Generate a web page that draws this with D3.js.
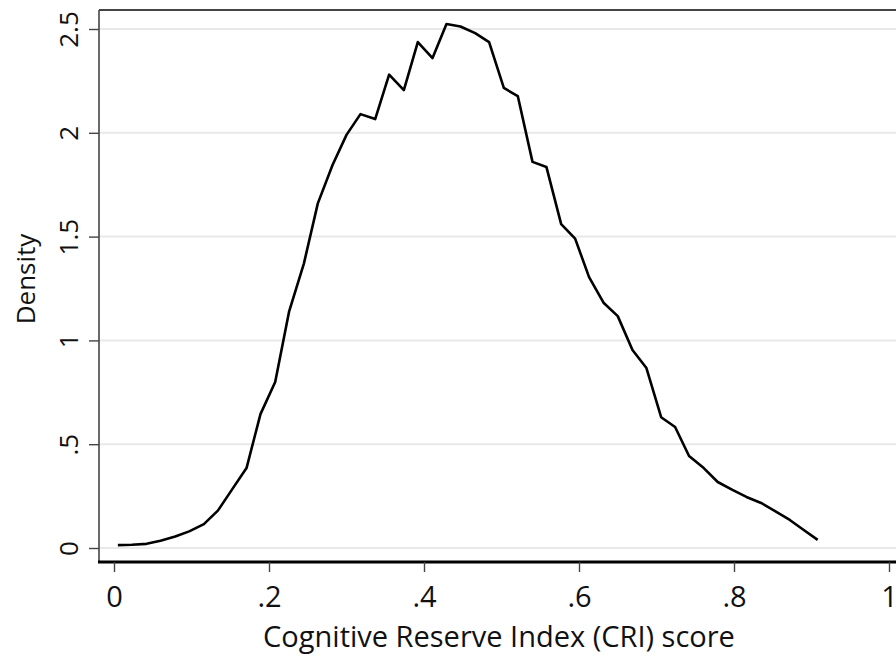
<!DOCTYPE html>
<html>
<head>
<meta charset="utf-8">
<script src="https://cdn.jsdelivr.net/npm/d3@7"></script>
<style>
  html, body { margin: 0; padding: 0; background: #fff; }
  svg { display: block; }
  text { font-family: "Open Sans", "Noto Sans", sans-serif; fill: #111; }
</style>
</head>
<body>
<svg id="chart" width="896" height="659"></svg>
<script>
// ---- data ----
const xTickValues = [0, 0.2, 0.4, 0.6, 0.8, 1];
const xTickLabels = ["0", ".2", ".4", ".6", ".8", "1"];
const yTickValues = [0, 0.5, 1, 1.5, 2, 2.5];
const yTickLabels = ["0", ".5", "1", "1.5", "2", "2.5"];

const criScore = [0.005, 0.023, 0.042, 0.060, 0.079, 0.097, 0.116, 0.134, 0.152, 0.171,
                  0.189, 0.208, 0.226, 0.245, 0.263, 0.282, 0.300, 0.318, 0.337, 0.355,
                  0.374, 0.392, 0.411, 0.429, 0.447, 0.466, 0.484, 0.503, 0.521, 0.540,
                  0.558, 0.577, 0.595, 0.613, 0.632, 0.650, 0.669, 0.687, 0.706, 0.724,
                  0.742, 0.761, 0.779, 0.798, 0.816, 0.835, 0.853, 0.872, 0.890, 0.908];
const density = [0.014, 0.016, 0.020, 0.035, 0.055, 0.080, 0.115, 0.180, 0.280, 0.385,
                 0.645, 0.800, 1.140, 1.370, 1.660, 1.845, 1.990, 2.090, 2.066, 2.280,
                 2.206, 2.437, 2.360, 2.524, 2.512, 2.480, 2.437, 2.216, 2.177, 1.860,
                 1.835, 1.560, 1.490, 1.305, 1.180, 1.117, 0.954, 0.867, 0.630, 0.583,
                 0.443, 0.385, 0.318, 0.280, 0.246, 0.217, 0.178, 0.135, 0.087, 0.039];

const xTitle = "Cognitive Reserve Index (CRI) score";
const yTitle = "Density";

// ---- layout ----
const frame = { left: 99, top: 10, right: 902, bottom: 562 };
const svg = d3.select("#chart");

const x = d3.scaleLinear().domain([0, 1]).range([114, 889]);
const y = d3.scaleLinear().domain([0, 2.5]).range([548, 29]);

// gridlines
svg.append("g")
  .selectAll("line")
  .data(yTickValues)
  .join("line")
  .attr("x1", frame.left).attr("x2", frame.right)
  .attr("y1", d => y(d)).attr("y2", d => y(d))
  .attr("stroke", "#e9e9e9").attr("stroke-width", 2);

// frame top
svg.append("line")
  .attr("x1", frame.left).attr("x2", frame.right)
  .attr("y1", frame.top).attr("y2", frame.top)
  .attr("stroke", "#444").attr("stroke-width", 2);

// y axis
const yAxis = d3.axisLeft(y)
  .tickValues(yTickValues)
  .tickFormat((d, i) => yTickLabels[i])
  .tickSizeInner(10).tickSizeOuter(0).tickPadding(11);
const gy = svg.append("g").attr("transform", `translate(${frame.left},0)`).call(yAxis);
gy.select(".domain").attr("stroke", "#444").attr("stroke-width", 1.6)
  .attr("d", `M0,${frame.top}V${frame.bottom}`);
gy.selectAll(".tick line").attr("stroke", "#444").attr("stroke-width", 1.4);
gy.selectAll(".tick text")
  .attr("font-size", 26)
  .attr("fill", "#111")
  .attr("text-anchor", "middle")
  .attr("dy", null)
  .attr("x", null)
  .attr("transform", "translate(-21,0) rotate(-90)");

// x axis
const xAxis = d3.axisBottom(x)
  .tickValues(xTickValues)
  .tickFormat((d, i) => xTickLabels[i])
  .tickSizeInner(10).tickSizeOuter(0).tickPadding(14);
const gx = svg.append("g").attr("transform", `translate(0,${frame.bottom})`).call(xAxis);
gx.select(".domain").attr("stroke", "#000").attr("stroke-width", 3)
  .attr("d", `M${frame.left - 1},0H${frame.right}`);
gx.selectAll(".tick line").attr("stroke", "#444").attr("stroke-width", 1.4);
gx.selectAll(".tick text")
  .attr("font-size", 29)
  .attr("fill", "#111")
  .attr("dy", null)
  .attr("y", 45);

// density line
const line = d3.line()
  .x((d, i) => x(criScore[i]))
  .y(d => y(d));
svg.append("path")
  .datum(density)
  .attr("d", line)
  .attr("fill", "none")
  .attr("stroke", "#000")
  .attr("stroke-width", 2.6)
  .attr("stroke-linejoin", "round");

// titles
svg.append("text")
  .attr("x", 499).attr("y", 647)
  .attr("text-anchor", "middle")
  .attr("font-size", 29)
  .text(xTitle);

svg.append("text")
  .attr("transform", "translate(35,279) rotate(-90)")
  .attr("text-anchor", "middle")
  .attr("font-size", 26)
  .text(yTitle);
</script>
</body>
</html>
